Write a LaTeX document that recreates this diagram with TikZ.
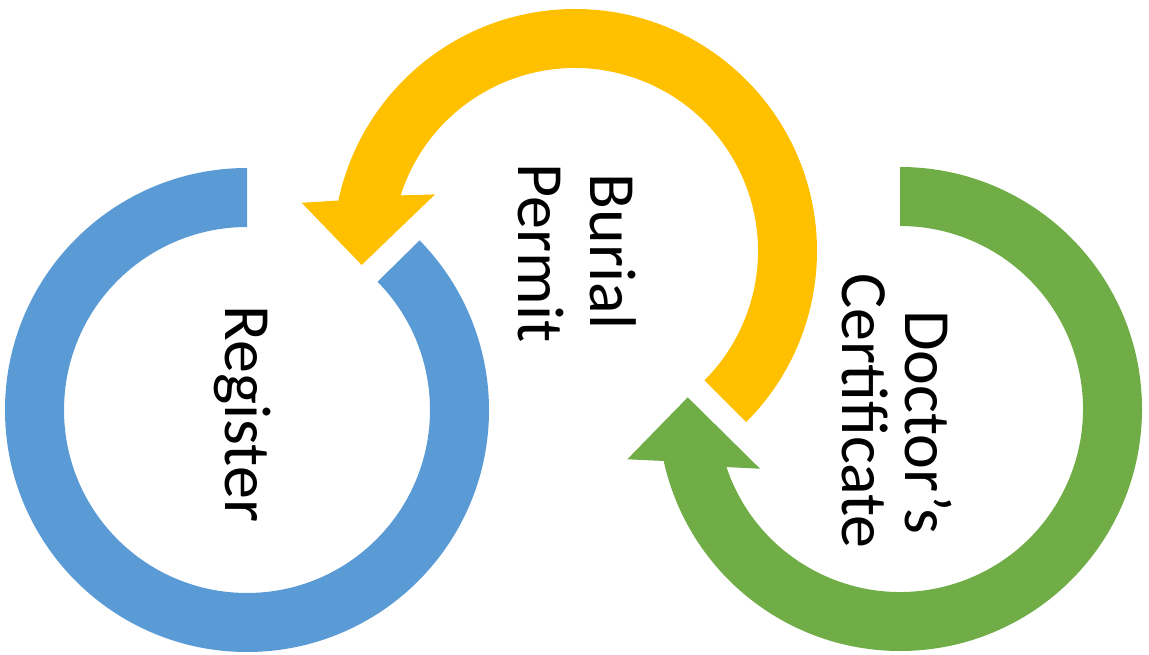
\documentclass[tikz,border=0pt]{standalone}
\usepackage{fontspec}
\setmainfont{Carlito}
\definecolor{cblue}{HTML}{5B9BD5}
\definecolor{cyellow}{HTML}{FFC000}
\definecolor{cgreen}{HTML}{70AD47}
\begin{document}
\begin{tikzpicture}[x=1pt,y=1pt,
  lbl/.style={font=\fontsize{66}{72}\selectfont, rotate=-90, anchor=base, inner sep=0pt}]
\useasboundingbox (0,0) rectangle (1149,654);
% blue ring (Register)
\begin{scope}[shift={(247,244)}]
\fill[cblue] (90:242pt) arc[start angle=90,end angle=404.5,radius=242pt]
  -- (44.5:183pt) arc[start angle=44.5,end angle=-270,radius=183pt] -- cycle;
\end{scope}
% yellow arrow (Burial Permit)
\begin{scope}[shift={(575,403)}]
\fill[cyellow] (-45:242pt) arc[start angle=-45,end angle=167.95,radius=242pt]
  -- (170:277.5pt) -- (183.75:213.8pt) -- (158:151pt)
  -- (162.3:183pt) arc[start angle=162.3,end angle=-45,radius=183pt] -- cycle;
\end{scope}
% green arrow (Doctor's Certificate)
\begin{scope}[shift={(900,245)}]
\fill[cgreen] (90:242pt) arc[start angle=90,end angle=-167.6,radius=242pt]
  -- (-169.55:277.3pt) -- (-183.15:212.6pt) -- (-156.9:152.2pt)
  -- (-161.5:183pt) arc[start angle=-161.5,end angle=90,radius=183pt] -- cycle;
\end{scope}
\node[lbl] (register) at (225,240) {Register};
\node[lbl] (burial) at (590,402.5) {Burial};
\node[lbl] (permit) at (518,401) {Permit};
\node[lbl] (certificate) at (842,243) {Certificate};
\node[lbl] (doctors) at (905,232) {Doctor’s};
\end{tikzpicture}
\end{document}
